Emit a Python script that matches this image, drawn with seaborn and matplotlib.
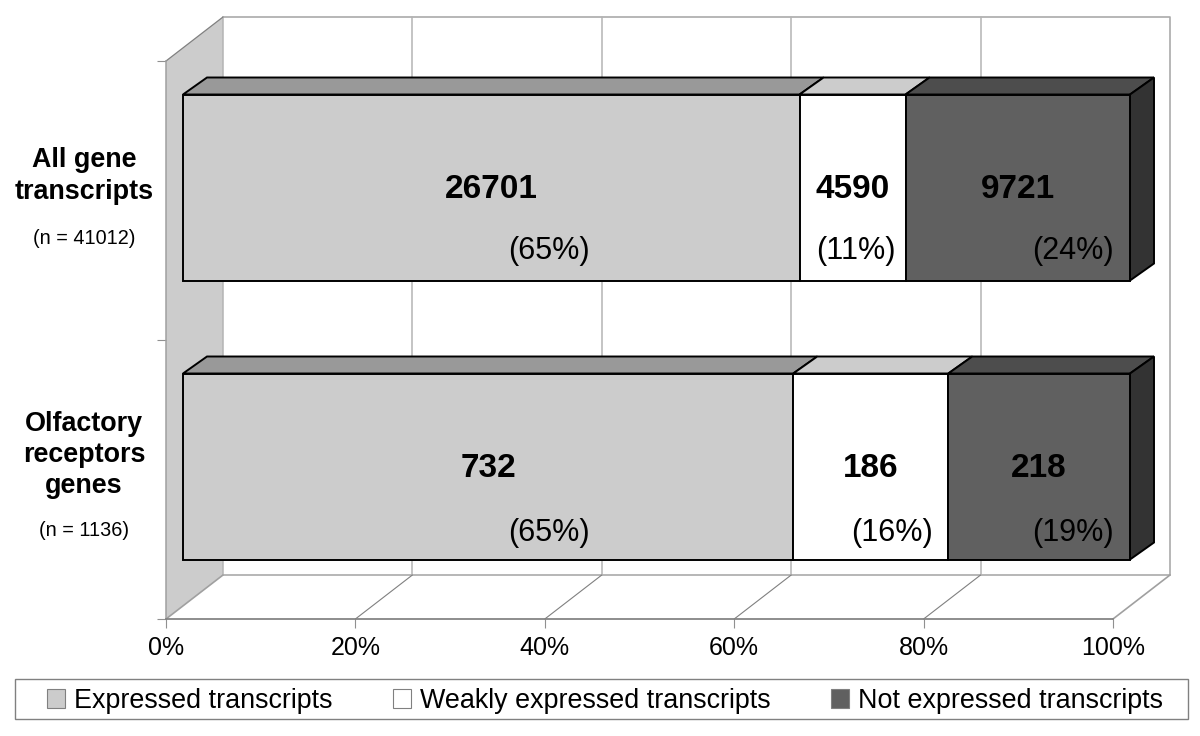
import matplotlib
matplotlib.use("Agg")
import matplotlib.pyplot as plt
from matplotlib.patches import Patch, Polygon, Rectangle
from matplotlib.transforms import Affine2D, ScaledTranslation
import seaborn as sns

sns.set_theme(style="white")
plt.rcParams['font.family'] = ['Liberation Sans', 'DejaVu Sans']

categories = ["All gene transcripts", "Olfactory receptors genes"]
category_text = ["All gene\ntranscripts", "Olfactory\nreceptors\ngenes"]
n_text = ["(n = 41012)", "(n = 1136)"]
series_names = ["Expressed transcripts", "Weakly expressed transcripts", "Not expressed transcripts"]
counts = [[26701, 732], [4590, 186], [9721, 218]]
pct_text = [["(65%)", "(65%)"], ["(11%)", "(16%)"], ["(24%)", "(19%)"]]
pct_label_x = [[38.6, 38.6], [71.1, 74.9], [94.0, 94.0]]
xticks = [0, 20, 40, 60, 80, 100]
xticklabels = ["0%", "20%", "40%", "60%", "80%", "100%"]

front = ["#cccccc", "#ffffff", "#606060"]
top = ["#999999", "#cccccc", "#4d4d4d"]
side = "#333333"
W, H = 1200, 736

fig = plt.figure(figsize=(W / 100, H / 100), dpi=100, facecolor="white")
px = Affine2D().scale(1, -1).translate(0, H)

def axes_px(x0, y0, x1, y1):
    return fig.add_axes([x0 / W, 1 - y1 / H, (x1 - x0) / W, (y1 - y0) / H])

def shift(ax, dx, dy):
    return ax.transData + ScaledTranslation(dx / 100, -dy / 100, fig.dpi_scale_trans)

# ---- chart box: front plane of the 3-D axes -----
box = axes_px(166, 61, 1113, 619)
box.set_xlim(0, 100)
box.set_ylim(2, 0)
box.patch.set_visible(False)
for s in ["top", "right"]:
    box.spines[s].set_visible(False)
box.spines["bottom"].set_color("#808080")
box.spines["left"].set_color("#a0a0a0")
box.spines["left"].set_linewidth(1.1)
box.set_xticks(xticks)
box.set_xticklabels(xticklabels, fontsize=18, color="black")
box.set_yticks([0, 1, 2])
box.set_yticklabels([])
box.tick_params(axis="both", length=6.5, width=0.8, color="#909090", bottom=True, left=True, pad=6)
box.grid(False)

back = shift(box, 57, -44)
wall_edge = "#aaaaaa"
inv = box.transData.inverted()
wall_pts = [(0, 0, 0, 0), (0, 2, 0, 0), (0, 2, 57, -44), (0, 0, 57, -44)]
disp = [box.transData.transform((x, y)) + [dx, -dy] for x, y, dx, dy in wall_pts]
box.add_patch(Polygon(inv.transform(disp), closed=True, facecolor="#cccccc", edgecolor="none",
                      clip_on=False, zorder=0))
box.plot([0, 100, 100], [0, 0, 2], transform=back, color=wall_edge, lw=1.2, clip_on=False, zorder=1)
box.plot([0, 100], [2, 2], transform=back, color=wall_edge, lw=1.2, clip_on=False, zorder=1)
for t in xticks[:-1]:
    box.plot([t, t], [0, 2], transform=back, color="#b4b4b4", lw=1.1, clip_on=False, zorder=1)
for t in xticks:
    p0 = box.transData.transform((t, 2))
    (a, b), (c, d) = inv.transform([p0, p0 + [57, 44]])
    box.plot([a, c], [b, d], color="#a0a0a0" if t in (0, 100) else "#808080",
             lw=1.2 if t in (0, 100) else 0.8, clip_on=False, zorder=1)
p0 = box.transData.transform((0, 0))
(a, b), (c, d) = inv.transform([p0, p0 + [57, 44]])
box.plot([a, c], [b, d], color="#808080", lw=0.9, clip_on=False, zorder=1)

# ---- stacked bars -----
ax = axes_px(183, 48, 1130, 606)
totals = [sum(c[i] for c in counts) for i in range(2)]
shares = [[100 * v / totals[i] for i, v in enumerate(c)] for c in counts]
lefts = [0.0, 0.0]
dx_bar, dy_bar = 24, -17
edge_kw = dict(edgecolor="black", linewidth=1.4, clip_on=False)
all_lefts = []
for j, name in enumerate(series_names):
    sns.barplot(x=shares[j], y=categories, left=lefts, color=front[j], saturation=1,
                width=2 / 3, orient="h", ax=ax, zorder=3, **edge_kw)
    all_lefts.append(list(lefts))
    lefts = [l + s for l, s in zip(lefts, shares[j])]
ax.set_xlim(0, 100)
ax.set_ylim(1.5, -0.5)
ax.axis("off")

h = 1 / 3
inv_a = ax.transData.inverted()
def pts(x, y, dx=0, dy=0):
    return inv_a.transform(ax.transData.transform((x, y)) + [dx, -dy])

pct_drop = [63, 66]
for i in range(2):
    yt, yb = i - h, i + h
    for j in range(3):
        x0 = all_lefts[j][i]
        x1 = x0 + shares[j][i]
        ax.add_patch(Polygon([pts(x0, yt), pts(x1, yt), pts(x1, yt, dx_bar, dy_bar), pts(x0, yt, dx_bar, dy_bar)],
                             closed=True, facecolor=top[j], zorder=2, **edge_kw))
    ax.add_patch(Polygon([pts(100, yt), pts(100, yb), pts(100, yb, dx_bar, dy_bar), pts(100, yt, dx_bar, dy_bar)],
                         closed=True, facecolor=side, zorder=2, **edge_kw))
    for j in range(3):
        x0 = all_lefts[j][i]
        ax.text(x0 + shares[j][i] / 2, i, f"{counts[j][i]}", fontsize=24, fontweight="bold",
                ha="center", va="center", color="black", zorder=5,
                transform=ax.transData + Affine2D().translate(0, -2))
        ax.text(pct_label_x[j][i], i, pct_text[j][i], fontsize=22, ha="center", va="center",
                color="black", zorder=5, transform=ax.transData + Affine2D().translate(0, -pct_drop[i]))

# ---- category labels -----
for txt, y in zip(category_text, [176, 455]):
    fig.text(84, y, txt, transform=px, fontsize=19.4, fontweight="bold", ha="center", va="center",
             linespacing=1.26, color="black")
for txt, y in zip(n_text, [238, 531]):
    fig.text(84, y, txt, transform=px, fontsize=14.3, ha="center", va="center", color="black")

# ---- legend -----
fig.add_artist(Rectangle((15, 679), 1173, 40, transform=px, facecolor="white", edgecolor="#808080", linewidth=1.0))
handles = [Patch(facecolor=c, edgecolor="#808080", linewidth=0.8) for c in front]
leg = fig.legend(handles, series_names, ncol=3, loc="center left",
                 bbox_to_anchor=(47 / W, 1 - 701 / H),
                 fontsize=19.4, frameon=False,
                 handlelength=0.67, handleheight=0.67, handletextpad=0.34, borderpad=0,
                 borderaxespad=0, columnspacing=2.24, labelcolor="black")

fig.savefig("out.png", dpi=100, facecolor="white")
